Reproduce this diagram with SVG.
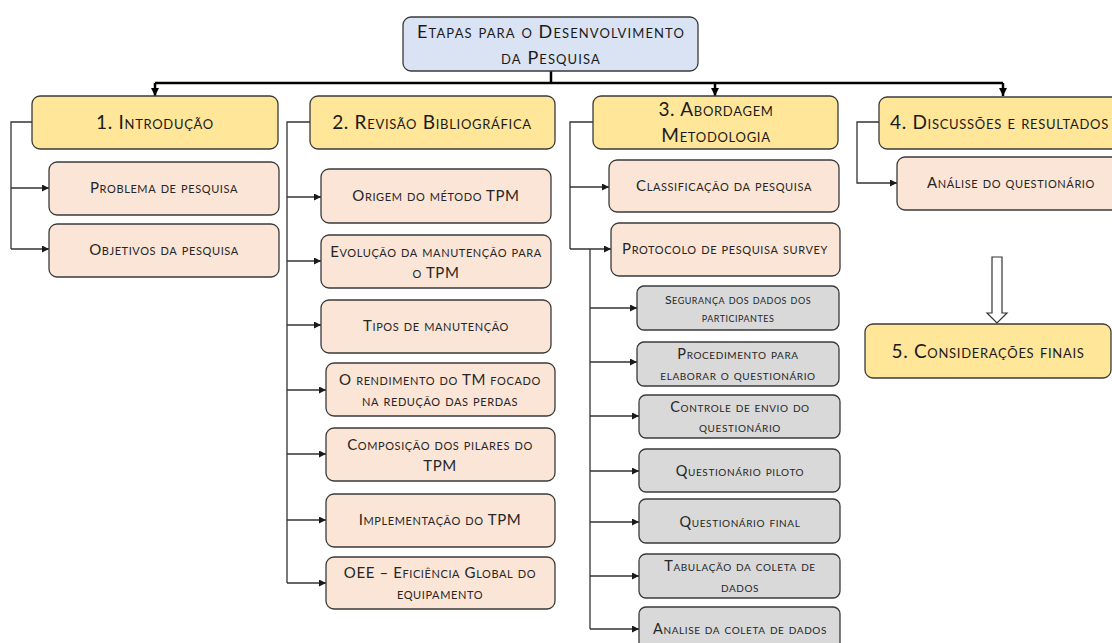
<svg xmlns="http://www.w3.org/2000/svg" width="1112" height="643" viewBox="0 0 1112 643">
<style>
text{font-family:Lato,"Open Sans","Liberation Sans",sans-serif;font-variant:small-caps;text-anchor:middle;fill:#1a1a1a}
.box{stroke:#3a3a3a;stroke-width:1.3}
.root{fill:#DAE3F3}
.main{fill:#FFE699}
.sub{fill:#FBE5D6}
.gray{fill:#D9D9D9}
.h{font-size:19px;letter-spacing:0.7px}
.r{font-size:18px;letter-spacing:1.1px}
.c{font-size:15px;letter-spacing:0.6px;fill:#262626}
.g{font-size:14.5px;letter-spacing:0.6px;fill:#262626}
.s{font-size:12.3px;letter-spacing:0.5px}
.bus{fill:none;stroke:#000;stroke-width:2.5}
.br{fill:none;stroke:#333;stroke-width:1.3}
</style>
<defs>
<marker id="ah" viewBox="0 0 10 10" refX="10" refY="5" markerWidth="7" markerHeight="7" markerUnits="userSpaceOnUse" orient="auto">
<path d="M0,0 L10,5 L0,10 z" fill="#1a1a1a"/>
</marker>
<marker id="ab" viewBox="0 0 10 10" refX="10" refY="5" markerWidth="8" markerHeight="8" markerUnits="userSpaceOnUse" orient="auto">
<path d="M0,0 L10,5 L0,10 z" fill="#000"/>
</marker>
</defs>

<g id="connectors">
<path class="bus" d="M551,71 V83"/>
<path class="bus" d="M155,83 H1003"/>
<path class="bus" d="M155,83 V96" marker-end="url(#ab)"/>
<path class="bus" d="M715,83 V96" marker-end="url(#ab)"/>
<path class="bus" d="M1003,83 V96" marker-end="url(#ab)"/>
<path class="br" d="M33,122 H11 V249"/>
<path class="br" d="M11,188 H49" marker-end="url(#ah)"/>
<path class="br" d="M11,249 H49" marker-end="url(#ah)"/>
<path class="br" d="M310,122 H287 V583"/>
<path class="br" d="M287,197 H321" marker-end="url(#ah)"/>
<path class="br" d="M287,261 H321" marker-end="url(#ah)"/>
<path class="br" d="M287,325 H321" marker-end="url(#ah)"/>
<path class="br" d="M287,390 H326" marker-end="url(#ah)"/>
<path class="br" d="M287,454 H326" marker-end="url(#ah)"/>
<path class="br" d="M287,520 H326" marker-end="url(#ah)"/>
<path class="br" d="M287,583 H326" marker-end="url(#ah)"/>
<path class="br" d="M593,122 H570 V249"/>
<path class="br" d="M570,187 H609" marker-end="url(#ah)"/>
<path class="br" d="M570,249 H611" marker-end="url(#ah)"/>
<path class="br" d="M590,249 V629"/>
<path class="br" d="M590,308 H637" marker-end="url(#ah)"/>
<path class="br" d="M590,362 H637" marker-end="url(#ah)"/>
<path class="br" d="M590,416 H639" marker-end="url(#ah)"/>
<path class="br" d="M590,471 H639" marker-end="url(#ah)"/>
<path class="br" d="M590,522 H639" marker-end="url(#ah)"/>
<path class="br" d="M590,576 H639" marker-end="url(#ah)"/>
<path class="br" d="M590,629 H639" marker-end="url(#ah)"/>
<path class="br" d="M879,122 H857 V183 H897" marker-end="url(#ah)"/>
<path d="M992,257 H1002 V313 H1007 L997,323 L987,313 H992 Z" fill="#fff" stroke="#333" stroke-width="1.2"/>
</g>

<g id="root">
<rect class="box root" x="403" y="17" width="295" height="54" rx="8"/>
<text class="r" x="551" y="38">Etapas para o Desenvolvimento</text>
<text class="r" x="551" y="64">da Pesquisa</text>
</g>

<g id="n1">
<rect class="box main" x="32" y="96" width="246" height="53" rx="8"/>
<text class="h" x="155" y="129">1. Introdução</text>
</g>
<g id="n2">
<rect class="box main" x="310" y="96" width="245" height="53" rx="8"/>
<text class="h" x="432" y="129">2. Revisão Bibliográfica</text>
</g>
<g id="n3">
<rect class="box main" x="593" y="96" width="245" height="53" rx="8"/>
<text class="h" x="716" y="116">3. Abordagem</text>
<text class="h" x="716" y="142">Metodologia</text>
</g>
<g id="n4">
<rect class="box main" x="879" y="97" width="246" height="52" rx="8"/>
<text class="h" x="890" y="129" style="text-anchor:start">4. Discussões e resultados</text>
</g>
<g id="n5">
<rect class="box main" x="865" y="324" width="246" height="54" rx="8"/>
<text class="h" x="988" y="358">5. Considerações finais</text>
</g>

<g id="n1a">
<rect class="box sub" x="49" y="162" width="230" height="53" rx="8"/>
<text class="c" x="164" y="193">Problema de pesquisa</text>
</g>
<g id="n1b">
<rect class="box sub" x="49" y="224" width="230" height="53" rx="8"/>
<text class="c" x="164" y="255">Objetivos da pesquisa</text>
</g>

<g id="n2a">
<rect class="box sub" x="321" y="169" width="230" height="54" rx="8"/>
<text class="c" x="436" y="201">Origem do método TPM</text>
</g>
<g id="n2b">
<rect class="box sub" x="321" y="235" width="230" height="53" rx="8"/>
<text class="c" x="436" y="257">Evolução da manutenção para</text>
<text class="c" x="436" y="278">o TPM</text>
</g>
<g id="n2c">
<rect class="box sub" x="321" y="300" width="230" height="53" rx="8"/>
<text class="c" x="436" y="331">Tipos de manutenção</text>
</g>
<g id="n2d">
<rect class="box sub" x="326" y="363" width="229" height="53" rx="8"/>
<text class="c" x="440" y="385">O rendimento do TM focado</text>
<text class="c" x="440" y="406">na redução das perdas</text>
</g>
<g id="n2e">
<rect class="box sub" x="326" y="428" width="229" height="53" rx="8"/>
<text class="c" x="440" y="450">Composição dos pilares do</text>
<text class="c" x="440" y="471">TPM</text>
</g>
<g id="n2f">
<rect class="box sub" x="326" y="494" width="229" height="53" rx="8"/>
<text class="c" x="440" y="525">Implementação do TPM</text>
</g>
<g id="n2g">
<rect class="box sub" x="326" y="557" width="229" height="52" rx="8"/>
<text class="c" x="440" y="578">OEE – Eficiência Global do</text>
<text class="c" x="440" y="599">equipamento</text>
</g>

<g id="n3a">
<rect class="box sub" x="609" y="160" width="230" height="52" rx="8"/>
<text class="c" x="724" y="191">Classificação da pesquisa</text>
</g>
<g id="n3b">
<rect class="box sub" x="611" y="223" width="229" height="53" rx="8"/>
<text class="c" x="725" y="254">Protocolo de pesquisa survey</text>
</g>
<g id="n3c">
<rect class="box gray" x="637" y="286" width="202" height="44" rx="7"/>
<text class="g s" x="738" y="304">Segurança dos dados dos</text>
<text class="g s" x="738" y="322">participantes</text>
</g>
<g id="n3d">
<rect class="box gray" x="637" y="342" width="202" height="44" rx="7"/>
<text class="g" x="738" y="359">Procedimento para</text>
<text class="g" x="738" y="380">elaborar o questionário</text>
</g>
<g id="n3e">
<rect class="box gray" x="639" y="395" width="201" height="43" rx="7"/>
<text class="g" x="740" y="412">Controle de envio do</text>
<text class="g" x="740" y="432">questionário</text>
</g>
<g id="n3f">
<rect class="box gray" x="639" y="449" width="201" height="43" rx="7"/>
<text class="g" x="740" y="476">Questionário piloto</text>
</g>
<g id="n3g">
<rect class="box gray" x="639" y="499" width="201" height="44" rx="7"/>
<text class="g" x="740" y="527">Questionário final</text>
</g>
<g id="n3h">
<rect class="box gray" x="639" y="554" width="201" height="44" rx="7"/>
<text class="g" x="740" y="571">Tabulação da coleta de</text>
<text class="g" x="740" y="592">dados</text>
</g>
<g id="n3i">
<rect class="box gray" x="639" y="607" width="201" height="44" rx="7"/>
<text class="g" x="740" y="634">Analise da coleta de dados</text>
</g>

<g id="n4a">
<rect class="box sub" x="897" y="157" width="230" height="53" rx="8"/>
<text class="c" x="1011" y="188">Análise do questionário</text>
</g>
</svg>
